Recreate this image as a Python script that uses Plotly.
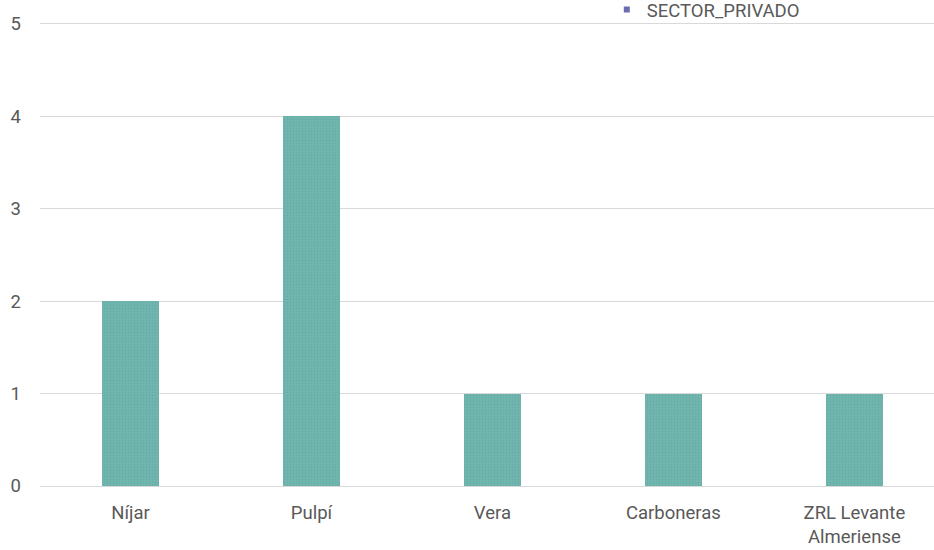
import plotly.graph_objects as go

categories = ["Níjar", "Pulpí", "Vera", "Carboneras", "ZRL Levante<br>Almeriense"]
values = [2, 4, 1, 1, 1]
series_name = "SECTOR_PRIVADO"
y_ticks = [0, 1, 2, 3, 4, 5]

FONT = "Roboto, sans-serif"
TXT = "#595959"
FS = 18.5

fig = go.Figure()
fig.add_trace(go.Bar(
    x=categories, y=values, width=0.315, showlegend=False,
    marker=dict(color="#6db1ab", line=dict(width=0),
                pattern=dict(shape=".", size=3, solidity=0.3, fgcolor="#5a9f99", bgcolor="#72b6b0")),
    name=series_name,
))
fig.add_trace(go.Scatter(
    x=[None], y=[None], mode="markers", name=series_name,
    marker=dict(symbol="square", size=6, color="#6a6db3"),
))
fig.update_layout(
    width=934, height=550,
    margin=dict(l=40, r=0, t=22, b=64, autoexpand=False),
    paper_bgcolor="white", plot_bgcolor="white",
    font=dict(family=FONT, size=FS, color=TXT),
    bargap=0,
    showlegend=True,
    legend=dict(x=0.634, xanchor="left", y=1.026, yanchor="middle",
                font=dict(size=FS, color=TXT), itemwidth=30,
                bgcolor="rgba(0,0,0,0)"),
    xaxis=dict(range=[-0.5, 4.44], showgrid=False, showline=False, ticks="",
               tickfont=dict(size=FS, color=TXT), ticklabelstandoff=13),
    yaxis=dict(range=[0, 5.02], tickvals=y_ticks, showgrid=True, gridcolor="#d9d9d9",
               gridwidth=1.3, zeroline=True, zerolinecolor="#d9d9d9", zerolinewidth=1.3,
               showline=False, ticks="", tickfont=dict(size=FS, color=TXT),
               ticklabelstandoff=18),
)
fig.write_html("out.html", config={"displayModeBar": False},
               post_script="document.body.style.margin='0';")
